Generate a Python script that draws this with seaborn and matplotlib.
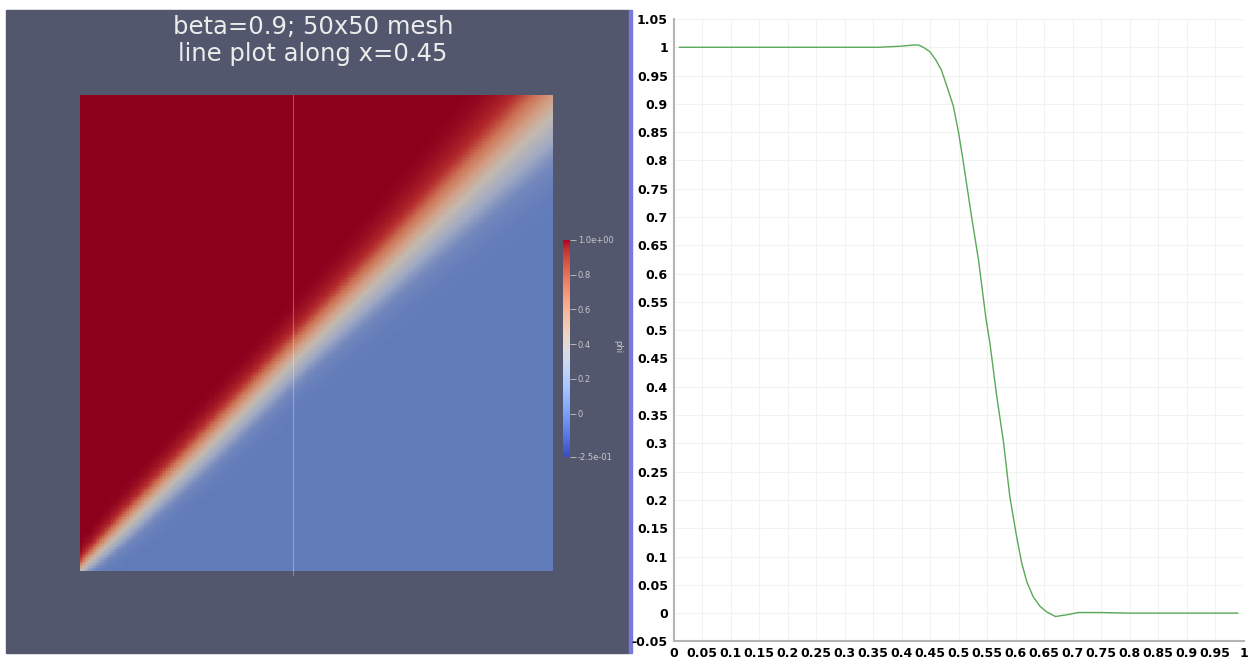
import numpy as np
import pandas as pd
import seaborn as sns
import matplotlib
matplotlib.use("Agg")
import matplotlib.pyplot as plt
from matplotlib.colors import LinearSegmentedColormap, Normalize
from matplotlib.cm import ScalarMappable
from matplotlib.patches import Rectangle

# phi along the probe line x=0.45 (arc length measured from the top edge)
arc_length = [0.01, 0.10, 0.20, 0.30, 0.36, 0.40, 0.42, 0.43, 0.44, 0.45,
              0.46, 0.47, 0.48, 0.491, 0.50, 0.508, 0.523, 0.535, 0.548, 0.555,
              0.567, 0.579, 0.590, 0.602, 0.611, 0.620, 0.631, 0.643, 0.655,
              0.67, 0.69, 0.71, 0.75, 0.80, 0.90, 0.99]
phi_line = [1.0, 1.0, 1.0, 1.0, 1.0, 1.002, 1.004, 1.004, 0.999, 0.992,
            0.978, 0.96, 0.93, 0.896, 0.85, 0.80, 0.70, 0.625, 0.522, 0.478,
            0.384, 0.302, 0.206, 0.135, 0.088, 0.055, 0.029, 0.012, 0.002,
            -0.006, -0.003, 0.001, 0.001, 0.0, 0.0, 0.0]

# front along the diagonal: how much wider / shifted than at the probe
n_cells = 50
probe_x = 0.45
front_pos = [0.0, 0.1, 0.25, 0.45, 0.65, 0.85, 1.0]
front_spread = [0.45, 0.8, 1.0, 1.15, 1.5, 1.95, 2.3]
front_shift = [0.0, -0.005, -0.01, -0.01, -0.02, -0.03, -0.04]

# colour bar
cbar_ticks = [1.0, 0.8, 0.6, 0.4, 0.2, 0.0, -0.25]
cbar_labels = ["1.0e+00", "0.8", "0.6", "0.4", "0.2", "0", "-2.5e-01"]
phi_min, phi_max = -0.25, 1.0

# values at the mesh nodes, taken from the probe profile
nodes = np.linspace(0, 1, n_cells + 1)
xx, yy = np.meshgrid(nodes, nodes[::-1])
s = (xx + yy) / 2
spread = np.interp(s, front_pos, front_spread)
shift = np.interp(s, front_pos, front_shift)
dist = (yy - xx - shift) / spread
prof_d = (1 - np.array(arc_length)) - probe_x
phi_nodes = np.interp(dist, prof_d[::-1], np.array(phi_line)[::-1])

# smooth (gouraud-like) rendering between nodes
fine = np.linspace(0, 1, 6 * n_cells + 1)
tmp = np.array([np.interp(fine, nodes, row) for row in phi_nodes])
phi_fine = np.array([np.interp(fine, nodes, col) for col in tmp.T]).T
field = pd.DataFrame(phi_fine)

# shaded look of the surface in the render
surf_stops = [0.0, 0.2, 0.3, 0.45, 0.6, 0.7, 0.8, 0.9, 1.0]
surf_rgb = [(50, 60, 150), (98, 124, 186), (115, 135, 188), (160, 170, 195),
            (195, 185, 175), (210, 160, 135), (205, 115, 85), (178, 42, 44),
            (140, 0, 28)]
surf_cmap = LinearSegmentedColormap.from_list(
    "surf", [(p, tuple(c / 255 for c in rgb)) for p, rgb in zip(surf_stops, surf_rgb)])

sns.set_theme(style="white")
plt.rcParams['font.family'] = ['DejaVu Sans']

W, H = 1252, 660
fig = plt.figure(figsize=(W / 100, H / 100), dpi=100)
fig.patch.set_facecolor("white")

def box(x0, y0, x1, y1):
    return [x0 / W, 1 - y1 / H, (x1 - x0) / W, (y1 - y0) / H]

# dark render panel
bg = fig.add_axes([0, 0, 1, 1], zorder=-5)
bg.set_xlim(0, W)
bg.set_ylim(H, 0)
bg.axis("off")
bg.add_patch(Rectangle((6, 10), 623, 643, color=(82 / 255, 87 / 255, 110 / 255)))
bg.add_patch(Rectangle((629, 10), 3, 643, color="#7a78d8"))

fig.text(313 / W, 1 - 27 / H, "beta=0.9; 50x50 mesh", ha="center", va="center",
         color="#ececec", fontsize=17.5)
fig.text(313 / W, 1 - 54 / H, "line plot along x=0.45", ha="center", va="center",
         color="#ececec", fontsize=17.5)

# heat map of phi
ax = fig.add_axes(box(80, 95, 553, 571))
sns.heatmap(field, ax=ax, cmap=surf_cmap, vmin=phi_min, vmax=phi_max,
            cbar=False, xticklabels=False, yticklabels=False, rasterized=True)
n_fine = len(fine)
ax.plot([probe_x * n_fine] * 2, [0, n_fine * 1.008], color="white", alpha=0.3,
        lw=0.8, clip_on=False)
ax.set_xlabel("")
ax.set_ylabel("")

cax = fig.add_axes(box(563, 240, 570, 457))
cb = fig.colorbar(ScalarMappable(norm=Normalize(phi_min, phi_max), cmap="coolwarm"), cax=cax)
cb.outline.set_visible(False)
cb.set_ticks(cbar_ticks)
cb.set_ticklabels(cbar_labels)
cax.tick_params(axis="y", colors="#c8c8c8", labelcolor="#c8c8c8", labelsize=6,
                length=4, width=0.6, pad=1.5, direction="out")
fig.text(618 / W, 1 - 347 / H, "phi", rotation=270, ha="center", va="center",
         color="#c8c8c8", fontsize=6)

# line plot
ax2 = fig.add_axes(box(673.5, 19, 1243.5, 641.4))
sns.lineplot(x=arc_length, y=phi_line, ax=ax2, color="#5aa85a", linewidth=1)
xt = np.round(np.arange(0, 1.0001, 0.05), 2)
yt = np.round(np.arange(-0.05, 1.0501, 0.05), 2)
ax2.set_xlim(0, 1)
ax2.set_ylim(-0.05, 1.05)
ax2.set_xticks(xt)
ax2.set_yticks(yt)
ax2.set_xticklabels([f"{v:g}" for v in xt])
ax2.set_yticklabels([f"{v:g}" for v in yt])
ax2.grid(True, color="#f0f3f0", linewidth=0.8)
for side in ["top", "right"]:
    ax2.spines[side].set_visible(False)
for side in ["left", "bottom"]:
    ax2.spines[side].set_color("#b4b4b4")
    ax2.spines[side].set_linewidth(1.5)
ax2.tick_params(axis="both", colors="#b4b4b4", labelcolor="black", length=3,
                width=1, labelsize=9, pad=1)
for lab in ax2.get_xticklabels() + ax2.get_yticklabels():
    lab.set_fontweight("bold")

fig.savefig("out.png", dpi=100)
